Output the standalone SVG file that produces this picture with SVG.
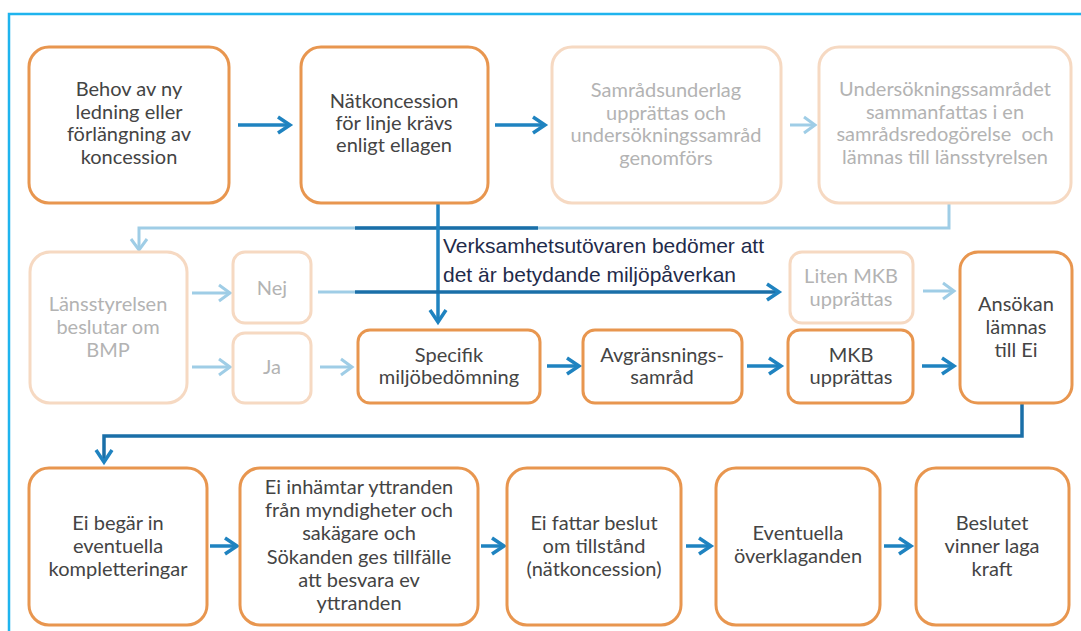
<svg xmlns="http://www.w3.org/2000/svg" width="1081" height="631" viewBox="0 0 1081 631">
<style>
.box{fill:#fff;stroke:#e8964f;stroke-width:3}
.fade{fill:#fff;stroke:#f6d9c2;stroke-width:3}
.t{font-family:Lato,"Liberation Sans",sans-serif;font-size:20px;fill:#444;text-anchor:middle}
.tf{font-family:Lato,"Liberation Sans",sans-serif;font-size:20px;fill:#b3b3b3;text-anchor:middle}
.note{font-family:"Liberation Sans",Arial,sans-serif;font-size:21px;fill:#1f2b4a}
.dk{stroke:#1f83c0;stroke-width:3.5;fill:none}
.dk2{stroke:#1a6fa8;stroke-width:3.5;fill:none}
.lt{stroke:#9fcde6;stroke-width:3;fill:none}
</style>
<defs>
<marker id="ad" markerUnits="userSpaceOnUse" markerWidth="24" markerHeight="24" viewBox="-16 -12 24 24" refX="0" refY="0" orient="auto">
<path d="M-11,-8 L1,0 L-11,8" fill="none" stroke="#1f83c0" stroke-width="3.5"/>
</marker>
<marker id="al" markerUnits="userSpaceOnUse" markerWidth="24" markerHeight="24" viewBox="-16 -12 24 24" refX="0" refY="0" orient="auto">
<path d="M-10,-8 L1,0 L-10,8" fill="none" stroke="#9fcde6" stroke-width="3"/>
</marker>
</defs>
<rect x="9" y="14" width="1100" height="650" fill="none" stroke="#1fb4ee" stroke-width="2.5"/>

<g id="connectors">
<path class="dk" d="M238,125 H289" marker-end="url(#ad)"/>
<path class="dk" d="M495,125 H544" marker-end="url(#ad)"/>
<path class="lt" d="M790,125 H814" marker-end="url(#al)"/>
<path class="lt" d="M949,204 V228 H139 V249" marker-end="url(#al)"/>
<path class="dk2" d="M355,228 H538"/>
<path class="dk" d="M438,204 V321" marker-end="url(#ad)"/>
<path class="lt" d="M318,292 H355"/>
<path class="dk2" d="M355,292 H778" marker-end="url(#ad)"/>
<path class="lt" d="M192,293 H229" marker-end="url(#al)"/>
<path class="lt" d="M192,367 H229" marker-end="url(#al)"/>
<path class="lt" d="M320,367 H351" marker-end="url(#al)"/>
<path class="dk" d="M547,366 H578" marker-end="url(#ad)"/>
<path class="dk" d="M747,366 H780" marker-end="url(#ad)"/>
<path class="dk" d="M922,366 H953" marker-end="url(#ad)"/>
<path class="lt" d="M923,291 H953" marker-end="url(#al)"/>
<path class="dk2" d="M1022,403 V436 H104 V461" marker-end="url(#ad)"/>
<path class="dk" d="M210,546 H236" marker-end="url(#ad)"/>
<path class="dk" d="M481,546 H503" marker-end="url(#ad)"/>
<path class="dk" d="M686,546 H710" marker-end="url(#ad)"/>
<path class="dk" d="M884,546 H910" marker-end="url(#ad)"/>
<text class="note" x="443" y="253">Verksamhetsutövaren bedömer att</text>
<text class="note" x="443" y="282">det är betydande miljöpåverkan</text>
</g>

<g id="n1"><rect class="box" x="29" y="47" width="200" height="156" rx="20"/>
<text class="t" x="129" y="96">Behov av ny</text><text class="t" x="129" y="119">ledning eller</text><text class="t" x="129" y="141">förlängning av</text><text class="t" x="129" y="164">koncession</text></g>
<g id="n2"><rect class="box" x="301" y="47" width="187" height="156" rx="20"/>
<text class="t" x="394" y="108">Nätkoncession</text><text class="t" x="394" y="130">för linje krävs</text><text class="t" x="394" y="152">enligt ellagen</text></g>
<g id="n3"><rect class="fade" x="552" y="47" width="229" height="156" rx="20"/>
<text class="tf" x="666" y="97">Samrådsunderlag</text><text class="tf" x="666" y="120">upprättas och</text><text class="tf" x="666" y="142">undersökningssamråd</text><text class="tf" x="666" y="165">genomförs</text></g>
<g id="n4"><rect class="fade" x="819" y="47" width="252" height="156" rx="20"/>
<text class="tf" x="945" y="96">Undersökningssamrådet</text><text class="tf" x="945" y="119">sammanfattas i en</text><text class="tf" x="945" y="141" style="white-space:pre">samrådsredogörelse  och</text><text class="tf" x="945" y="164">lämnas till länsstyrelsen</text></g>

<g id="n5"><rect class="fade" x="30" y="252" width="157" height="151" rx="20"/>
<text class="tf" x="108" y="311">Länsstyrelsen</text><text class="tf" x="108" y="334">beslutar om</text><text class="tf" x="108" y="357">BMP</text></g>
<g id="n6"><rect class="fade" x="233" y="252" width="78" height="71" rx="12"/>
<text class="tf" x="272" y="295">Nej</text></g>
<g id="n7"><rect class="fade" x="233" y="333" width="78" height="70" rx="12"/>
<text class="tf" x="272" y="374">Ja</text></g>
<g id="n8"><rect class="box" x="358" y="330" width="182" height="73" rx="12"/>
<text class="t" x="449" y="362">Specifik</text><text class="t" x="449" y="384">miljöbedömning</text></g>
<g id="n9"><rect class="box" x="583" y="330" width="159" height="73" rx="12"/>
<text class="t" x="662" y="362">Avgränsnings-</text><text class="t" x="662" y="384">samråd</text></g>
<g id="n10"><rect class="fade" x="790" y="252" width="123" height="71" rx="12"/>
<text class="tf" x="851" y="283">Liten MKB</text><text class="tf" x="851" y="306">upprättas</text></g>
<g id="n11"><rect class="box" x="788" y="330" width="125" height="73" rx="12"/>
<text class="t" x="851" y="362">MKB</text><text class="t" x="851" y="384">upprättas</text></g>
<g id="n12"><rect class="box" x="960" y="252" width="112" height="151" rx="18"/>
<text class="t" x="1016" y="311">Ansökan</text><text class="t" x="1016" y="334">lämnas</text><text class="t" x="1016" y="357">till Ei</text></g>

<g id="n13"><rect class="box" x="29" y="468" width="178" height="157" rx="20"/>
<text class="t" x="118" y="530">Ei begär in</text><text class="t" x="118" y="553">eventuella</text><text class="t" x="118" y="576">kompletteringar</text></g>
<g id="n14"><rect class="box" x="240" y="468" width="238" height="157" rx="20"/>
<text class="t" x="359" y="494">Ei inhämtar yttranden</text><text class="t" x="359" y="517">från myndigheter och</text><text class="t" x="359" y="540">sakägare och</text><text class="t" x="359" y="564">Sökanden ges tillfälle</text><text class="t" x="359" y="587">att besvara ev</text><text class="t" x="359" y="610">yttranden</text></g>
<g id="n15"><rect class="box" x="507" y="468" width="174" height="157" rx="20"/>
<text class="t" x="594" y="530">Ei fattar beslut</text><text class="t" x="594" y="553">om tillstånd</text><text class="t" x="594" y="576">(nätkoncession)</text></g>
<g id="n16"><rect class="box" x="716" y="468" width="164" height="157" rx="20"/>
<text class="t" x="798" y="540">Eventuella</text><text class="t" x="798" y="563">överklaganden</text></g>
<g id="n17"><rect class="box" x="916" y="468" width="153" height="157" rx="20"/>
<text class="t" x="992" y="530">Beslutet</text><text class="t" x="992" y="553">vinner laga</text><text class="t" x="992" y="576">kraft</text></g>
</svg>
